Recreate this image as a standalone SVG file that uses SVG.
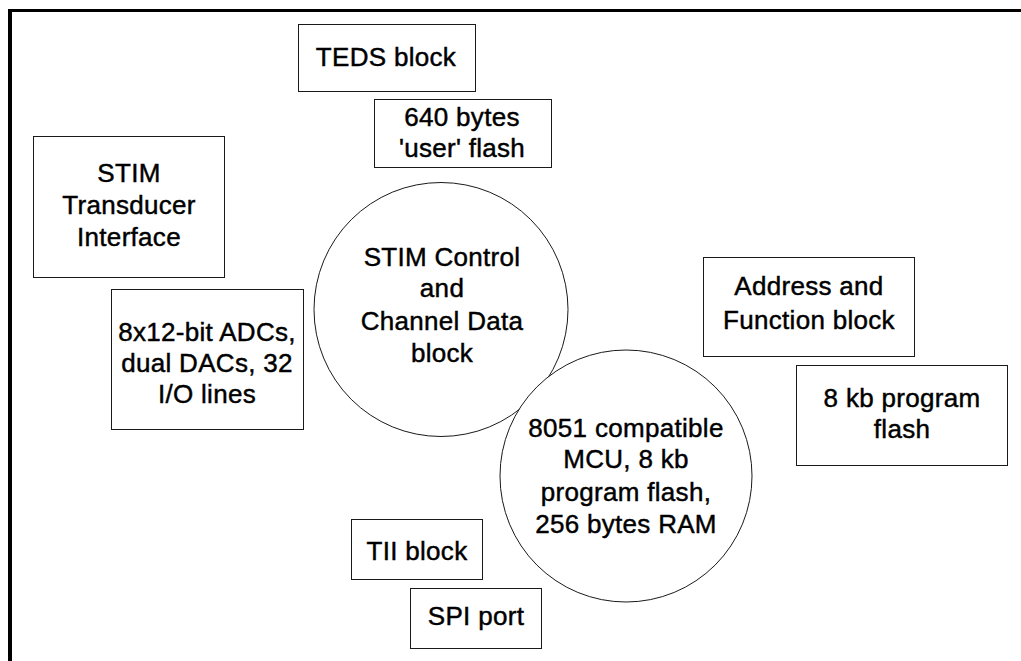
<svg xmlns="http://www.w3.org/2000/svg" width="1021" height="661" viewBox="0 0 1021 661">
<style>
.box{fill:#fff;stroke:#1a1a1a;stroke-width:1}
.circ{fill:#fff;stroke:#1a1a1a;stroke-width:1}
text{font-family:"Liberation Sans",Arial,sans-serif;font-size:26px;fill:#000;stroke:#000;stroke-width:0.45;letter-spacing:0.3px;text-anchor:middle}
</style>
<rect width="1021" height="661" fill="#fff"/>
<g id="frame">
<rect x="8" y="9" width="4" height="652" fill="#000"/>
<rect x="8" y="9" width="1013" height="3" fill="#000"/>
</g>
<g id="connectors"></g>
<g id="teds">
<rect class="box" x="298.5" y="24.5" width="177" height="67"/>
<text x="386" y="66">TEDS block</text>
</g>
<g id="userflash">
<rect class="box" x="374.5" y="99.5" width="177" height="68"/>
<text x="462" y="126">640 bytes</text>
<text x="462" y="157">'user' flash</text>
</g>
<g id="stimti">
<rect class="box" x="33.5" y="136.5" width="191" height="141"/>
<text x="129" y="182">STIM</text>
<text x="129" y="214">Transducer</text>
<text x="129" y="246">Interface</text>
</g>
<g id="adcs">
<rect class="box" x="111.5" y="289.5" width="192" height="140"/>
<text x="207" y="341">8x12-bit ADCs,</text>
<text x="207" y="372">dual DACs, 32</text>
<text x="207" y="403">I/O lines</text>
</g>
<g id="control">
<circle class="circ" cx="441" cy="309.5" r="127"/>
<text x="442" y="266">STIM Control</text>
<text x="442" y="297">and</text>
<text x="442" y="330">Channel Data</text>
<text x="442" y="362">block</text>
</g>
<g id="mcu">
<circle class="circ" cx="626" cy="476" r="126"/>
<text x="626" y="437">8051 compatible</text>
<text x="626" y="468">MCU, 8 kb</text>
<text x="626" y="501">program flash,</text>
<text x="626" y="533">256 bytes RAM</text>
</g>
<g id="addr">
<rect class="box" x="703.5" y="257.5" width="211" height="99"/>
<text x="809" y="295">Address and</text>
<text x="809" y="329">Function block</text>
</g>
<g id="progflash">
<rect class="box" x="796.5" y="365.5" width="211" height="100"/>
<text x="902" y="407">8 kb program</text>
<text x="902" y="438">flash</text>
</g>
<g id="tii">
<rect class="box" x="351.5" y="519.5" width="131" height="60"/>
<text x="417" y="560">TII block</text>
</g>
<g id="spi">
<rect class="box" x="410.5" y="588.5" width="131" height="60"/>
<text x="476" y="625">SPI port</text>
</g>
</svg>
